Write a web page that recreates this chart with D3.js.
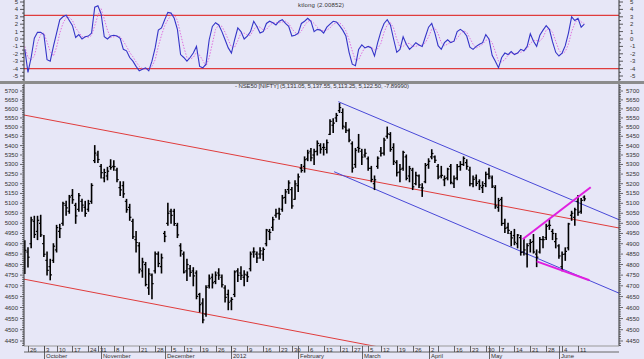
<!DOCTYPE html>
<html><head><meta charset="utf-8">
<script src="https://cdn.jsdelivr.net/npm/d3@7"></script>
<style>body{margin:0;background:#E7E7F7}svg{display:block}text{font-family:"Liberation Sans",Arial,sans-serif;fill:#333}</style>
</head><body>
<svg id="c" width="644" height="359"></svg>
<script>
// ---- categories (trading days) ----
const startDate = "2011-09-23", endDate = "2012-06-13";
const holidays = ["2011-10-06","2011-10-26","2011-10-27","2011-11-07","2011-11-10","2011-12-06","2012-01-26","2012-02-20","2012-03-08","2012-04-05","2012-04-06","2012-05-01"];
// ---- price series (NSE50) ----
const open = [4830,4860,4900,5010,4960,5000,4900,4820,4790,4820,4870,4960,5000,5090,5060,5140,5090,5070,5110,5080,5070,5110,5320,5350,5290,5230,5240,5290,5290,5270,5180,5190,5110,5080,5010,4920,4890,4770,4800,4690,4750,4770,4850,4790,4950,5000,5060,5060,4990,4890,4850,4770,4780,4770,4760,4660,4620,4570,4700,4740,4720,4760,4740,4690,4660,4630,4660,4770,4760,4740,4750,4780,4860,4850,4850,4850,4900,4960,4980,5040,5050,5070,5130,5170,5170,5120,5190,5280,5290,5330,5370,5350,5370,5400,5390,5380,5460,5510,5550,5590,5580,5500,5480,5410,5300,5390,5370,5350,5330,5280,5200,5290,5370,5360,5450,5460,5390,5310,5260,5280,5340,5240,5270,5200,5240,5180,5210,5300,5340,5340,5290,5240,5220,5230,5290,5200,5230,5290,5300,5310,5270,5200,5230,5210,5180,5200,5250,5230,5180,5080,5120,5000,4980,4950,4940,4900,4930,4860,4850,4900,4910,4850,4860,4920,4930,4990,4960,4910,4890,4790,4850,4880,5040,5030,5110,5060,5131.05];
const high = [4915,4880,5030,5035,5035,5040,4940,4860,4825,4900,4990,4995,5105,5110,5140,5170,5100,5150,5120,5110,5115,5200,5400,5370,5300,5275,5285,5325,5320,5280,5210,5210,5120,5095,5020,4960,4905,4830,4810,4780,4755,4860,4860,4850,4960,5100,5070,5070,5000,4900,4860,4825,4795,4785,4770,4665,4640,4700,4750,4755,4765,4780,4750,4700,4680,4645,4770,4780,4790,4770,4765,4860,4880,4860,4880,4880,4970,4970,5030,5070,5075,5140,5170,5215,5180,5215,5250,5300,5340,5375,5385,5380,5425,5410,5410,5430,5540,5545,5575,5630,5600,5525,5490,5420,5385,5460,5380,5380,5340,5290,5240,5340,5390,5440,5500,5470,5410,5320,5300,5370,5350,5290,5280,5260,5245,5200,5305,5330,5378,5345,5300,5290,5240,5280,5300,5240,5300,5315,5340,5325,5285,5240,5245,5220,5210,5260,5280,5240,5190,5125,5130,5020,5000,4960,4970,4945,4940,4925,4900,4920,4945,4870,4930,4935,4995,5020,4970,4950,4895,4860,4880,5000,5060,5075,5140,5125,5137.55];
const low = [4758,4788,4880,4930,4920,4935,4838,4750,4728,4810,4860,4930,4990,5040,5050,5100,5000,5060,5060,5035,5060,5100,5310,5310,5230,5210,5220,5275,5270,5210,5140,5130,5055,5015,4925,4860,4760,4740,4700,4660,4640,4760,4790,4760,4910,4990,5000,4990,4930,4840,4760,4725,4745,4700,4640,4580,4531,4560,4690,4690,4710,4730,4695,4625,4590,4590,4650,4720,4730,4700,4720,4770,4835,4810,4830,4820,4890,4920,4965,5030,5020,5060,5100,5150,5075,5120,5160,5260,5260,5320,5320,5300,5350,5360,5350,5360,5460,5470,5530,5580,5490,5470,5420,5260,5285,5365,5300,5340,5270,5210,5170,5280,5345,5350,5440,5370,5300,5240,5210,5270,5220,5210,5170,5195,5180,5135,5205,5280,5330,5310,5225,5230,5190,5220,5200,5180,5220,5270,5295,5275,5190,5185,5190,5170,5155,5185,5225,5180,5075,5060,4990,4955,4950,4890,4895,4880,4845,4845,4788,4860,4855,4790,4855,4880,4920,4970,4920,4880,4830,4770,4820,4870,5015,4990,5040,5050,5113.25];
const close = [4868,4835,5017,4945,5015,4943,4849,4772,4751,4888,4979,4974,5099,5077,5132,5118,5037,5139,5091,5049,5098,5191,5360,5326,5257,5258,5265,5284,5289,5221,5168,5148,5068,5030,4934,4906,4778,4812,4706,4756,4710,4851,4805,4832,4936,5050,5039,4999,4943,4866,4764,4800,4763,4746,4651,4613,4544,4693,4733,4714,4750,4750,4705,4646,4624,4637,4765,4749,4749,4754,4742,4850,4861,4831,4866,4873,4967,4955,5018,5048,5046,5127,5158,5204,5087,5199,5235,5269,5325,5361,5335,5368,5412,5381,5390,5416,5531,5521,5564,5607,5505,5483,5429,5281,5375,5385,5339,5359,5280,5222,5220,5333,5359,5429,5463,5380,5317,5257,5274,5364,5228,5278,5184,5243,5194,5178,5295,5317,5358,5322,5234,5243,5226,5276,5207,5226,5289,5300,5332,5290,5200,5222,5202,5189,5190,5248,5239,5188,5087,5114,4999,4975,4965,4928,4907,4942,4858,4870,4891,4906,4860,4835,4921,4920,4985,4990,4950,4924,4841,4848,4863,4997,5050,5068,5054,5115,5122.5];
// ---- oscillator ktlong ----
const ktlong = [-1.4,-4.5,-2.5,0.1,0.9,0.9,0.6,-2.8,-3.0,-1.0,0.8,2.6,3.0,3.2,2.5,1.8,0.2,0.6,0.0,0.3,0.4,0.8,4.3,4.5,3.4,0.3,0.0,0.4,0.5,0.4,0.1,-1.4,-1.6,-2.5,-3.0,-3.7,-4.3,-4.1,-3.9,-4.3,-3.0,-1.2,1.2,1.5,2.6,3.6,3.5,2.8,1.3,-2.1,-2.5,-3.0,-2.5,-1.9,-1.0,-3.7,-3.9,-3.4,-0.1,1.7,2.2,1.9,1.0,-0.1,-1.2,-1.9,-0.1,1.5,1.0,0.0,0.4,1.0,2.4,1.7,0.8,1.0,2.1,2.4,2.2,1.9,2.4,2.6,2.1,1.7,0.4,0.5,0.8,2.1,2.4,2.8,2.4,1.0,1.3,1.2,0.8,1.6,2.0,2.4,2.3,1.8,1.2,0.4,-1.8,-3.4,-3.6,-1.4,-0.8,-1.2,-1.0,-1.2,-2.3,-0.5,1.0,2.1,2.6,1.9,0.0,-1.8,-1.4,0.3,-0.7,-1.4,-1.0,-0.5,-0.8,-1.0,0.3,1.6,2.1,0.8,-0.9,-1.4,-0.5,-0.1,-0.5,-0.3,1.0,1.3,1.0,0.4,-1.1,-1.4,-1.0,-0.7,-0.5,0.6,0.0,-2.2,-3.0,-3.9,-2.5,-1.9,-2.1,-1.7,-2.1,-1.9,-1.4,-1.6,-1.0,0.7,-0.3,-1.0,0.5,1.2,1.8,1.3,-0.4,-1.8,-2.3,-1.9,-0.9,0.8,3.0,2.5,2.8,1.6,2.0];
const ktSignal = [-1.0,-2.5,-2.8,-2.3,-0.5,0.6,0.8,-0.4,-1.7,-2.3,-1.1,0.8,2.1,2.9,2.9,2.5,1.5,0.9,0.3,0.3,0.2,0.5,1.8,3.2,4.1,2.7,1.2,0.2,0.3,0.4,0.3,-0.3,-1.0,-1.8,-2.4,-3.1,-3.7,-4.0,-4.1,-4.1,-3.7,-2.8,-1.0,0.5,1.8,2.6,3.2,3.3,2.5,0.7,-1.1,-2.5,-2.7,-2.5,-1.8,-2.2,-2.9,-3.7,-2.5,-0.6,1.3,1.9,1.7,0.9,-0.1,-1.1,-1.1,-0.2,0.8,0.8,0.5,0.5,1.3,1.7,1.6,1.2,1.3,1.8,2.2,2.2,2.2,2.3,2.4,2.1,1.4,0.9,0.6,1.1,1.8,2.4,2.5,2.1,1.6,1.2,1.1,1.2,1.5,2.0,2.2,2.2,1.8,1.1,-0.1,-1.6,-2.9,-2.8,-1.9,-1.1,-1.0,-1.1,-1.5,-1.3,-0.6,0.9,1.9,2.2,1.5,0.0,-1.1,-1.0,-0.6,-0.6,-1.0,-1.0,-0.8,-0.8,-0.5,0.3,1.3,1.5,0.7,-0.5,-0.9,-0.7,-0.4,-0.3,0.1,0.7,1.1,0.9,0.1,-0.7,-1.2,-1.0,-0.7,-0.2,0.0,-0.5,-1.7,-3.0,-3.1,-2.8,-2.2,-1.9,-2.0,-1.9,-1.8,-1.6,-1.3,-0.6,-0.2,-0.2,-0.3,0.2,1.2,1.4,0.9,-0.3,-1.5,-2.0,-1.7,-0.7,1.0,2.1,2.8,2.3,2.1];
const oscLevels = [3.2, -4.0];
// ---- trend lines (index, price) ----
const redLines = [[[-0.25,5566],[186.9,4977]], [[-0.25,4731],[186.9,4227]]];
const blueLines = [[[98.6,5640],[186.9,5018]], [[97.3,5262],[186.9,4666]]];
const magentaLines = [[[156.6,4922],[178.0,5182]], [[161.0,4815],[177.6,4726]]];
// ---- axis labels ----
const priceTicks = d3.range(4450, 5701, 50);
const oscTicks = d3.range(-5, 6, 1);
const weekTickDates = ["2011-09-26","2011-10-03","2011-10-10","2011-10-17","2011-10-24","2011-10-31","2011-11-08","2011-11-14","2011-11-21","2011-11-28","2011-12-05","2011-12-12","2011-12-19","2011-12-26","2012-01-02","2012-01-09","2012-01-16","2012-01-23","2012-01-30","2012-02-06","2012-02-13","2012-02-21","2012-02-27","2012-03-05","2012-03-12","2012-03-19","2012-03-26","2012-04-02","2012-04-09","2012-04-16","2012-04-23","2012-04-30","2012-05-07","2012-05-14","2012-05-21","2012-05-28","2012-06-04","2012-06-11"];
const weekTickLabels = ["26","3","10","17","24","31","8","","21","28","5","12","19","26","2","9","16","23","30","6","13","21","27","5","12","19","26","2","","16","23","30","7","14","21","28","4","11"];
const monthTickDates = ["2011-10-03","2011-11-01","2011-12-01","2012-01-02","2012-02-01","2012-03-01","2012-04-02","2012-05-02","2012-06-01"];
const monthLabels = ["October","November","December","2012","February","March","April","May","June"];
const titleOsc = "ktlong (2.00852)";
const titleMain = "- NSE50 [NIFTY] (5,131.05, 5,137.55, 5,113.25, 5,122.50, -7.89990)";

// build trading day list
const dates = [];
{
  const hol = new Set(holidays);
  let d = new Date(startDate + "T00:00:00Z");
  const e = new Date(endDate + "T00:00:00Z");
  while (d <= e) {
    const k = d.toISOString().slice(0,10);
    const w = d.getUTCDay();
    if (w !== 0 && w !== 6 && !hol.has(k)) dates.push(k);
    d = new Date(d.getTime() + 86400000);
  }
}
const idx = s => dates.indexOf(s);

const svg = d3.select("#c");
const L = 24, R = 619;
const x = d3.scaleLinear().domain([-0.25, 186.9]).range([L, R]);
const yP = d3.scaleLog().domain([5700, 4450]).range([91, 341]);
const yO = d3.scaleLinear().domain([5, -5]).range([2, 76]);

const defs = svg.append("defs");
defs.append("clipPath").attr("id","cm").append("rect").attr("x",L).attr("y",85).attr("width",R-L).attr("height",261);
defs.append("clipPath").attr("id","co").append("rect").attr("x",L).attr("y",0).attr("width",R-L).attr("height",81);

// separator
svg.append("rect").attr("x",0).attr("y",81).attr("width",644).attr("height",3).attr("fill","#8c8c8c");

// ---- oscillator panel ----
const go = svg.append("g").attr("clip-path","url(#co)");
oscLevels.forEach(v => go.append("line").attr("x1",L).attr("x2",R).attr("y1",yO(v)).attr("y2",yO(v)).attr("stroke","#E03C3C").attr("stroke-width",1.2));
const lineO = d3.line().x((d,i)=>x(i)).y(d=>yO(d));
go.append("path").attr("d",lineO(ktSignal)).attr("fill","none").attr("stroke","#E070E0").attr("stroke-width",1).attr("stroke-dasharray","1.5,1.5");
go.append("path").attr("d",lineO(ktlong)).attr("fill","none").attr("stroke","#3535C8").attr("stroke-width",1.1);

// osc axes
[L, R].forEach((ax, s) => {
  svg.append("line").attr("x1",ax).attr("x2",ax).attr("y1",0).attr("y2",81).attr("stroke","#333");
  d3.range(-5.5, 5.6, 0.5).forEach(v => {
    const major = Math.abs(v % 1) < 1e-9;
    const len = major ? 4 : 2;
    svg.append("line").attr("x1", s ? ax : ax - len).attr("x2", s ? ax + len : ax)
      .attr("y1", yO(v)).attr("y2", yO(v)).attr("stroke","#333").attr("stroke-width",0.8);
  });
  oscTicks.forEach(v => {
    svg.append("text").attr("x", s ? ax + 11 : ax - 6).attr("y", yO(v) + 2)
      .attr("text-anchor", s ? "start" : "end").attr("font-size", 6).text(v);
  });
});
svg.append("text").attr("x", 321).attr("y", 7).attr("text-anchor","middle").attr("font-size",6).attr("textLength",46).text(titleOsc);

// ---- price panel ----
svg.append("text").attr("x", 322).attr("y", 88).attr("text-anchor","middle").attr("font-size",6).attr("textLength",174).text(titleMain);
const gm = svg.append("g").attr("clip-path","url(#cm)");
const seg = (g, arr, col, w) => arr.forEach(l => g.append("line")
  .attr("x1", x(l[0][0])).attr("y1", yP(l[0][1])).attr("x2", x(l[1][0])).attr("y2", yP(l[1][1]))
  .attr("stroke", col).attr("stroke-width", w));
seg(gm, redLines, "#E03C3C", 1);
seg(gm, blueLines, "#4848D8", 1);
// OHLC bars
const gb = gm.append("g").attr("stroke","#000");
close.forEach((c, i) => {
  const xx = x(i);
  gb.append("line").attr("x1", xx).attr("x2", xx).attr("y1", yP(high[i]) - 0.5).attr("y2", yP(low[i]) + 0.5).attr("stroke-width",1.6);
  gb.append("line").attr("x1", xx - 1.7).attr("x2", xx).attr("y1", yP(open[i])).attr("y2", yP(open[i])).attr("stroke-width",1.2);
  gb.append("line").attr("x1", xx).attr("x2", xx + 1.7).attr("y1", yP(c)).attr("y2", yP(c)).attr("stroke-width",1.2);
});
seg(gm, magentaLines, "#E020E0", 2);

// price axes
[L, R].forEach((ax, s) => {
  svg.append("line").attr("x1",ax).attr("x2",ax).attr("y1",84).attr("y2",346).attr("stroke","#333");
  d3.range(4430, 5731, 10).forEach(v => {
    const major = v % 50 === 0;
    const len = major ? 4 : 2;
    const yy = yP(v);
    if (yy < 85 || yy > 346) return;
    svg.append("line").attr("x1", s ? ax : ax - len).attr("x2", s ? ax + len : ax)
      .attr("y1", yy).attr("y2", yy).attr("stroke","#333").attr("stroke-width",0.7);
  });
  priceTicks.forEach(v => {
    svg.append("text").attr("x", s ? ax + 7 : ax - 6).attr("y", yP(v) + 2)
      .attr("text-anchor", s ? "start" : "end").attr("font-size", 6).text(v);
  });
});

// ---- date axis ----
svg.append("line").attr("x1",L).attr("x2",R).attr("y1",346).attr("y2",346).attr("stroke","#999");
svg.append("line").attr("x1",L).attr("x2",R).attr("y1",352).attr("y2",352).attr("stroke","#666");
weekTickDates.forEach((d, k) => {
  const xx = Math.round(x(idx(d))) + 0.5;
  svg.append("line").attr("x1",xx).attr("x2",xx).attr("y1",346).attr("y2",352).attr("stroke","#444").attr("stroke-width",0.8);
  svg.append("text").attr("x", xx + 1.5).attr("y", 351.5).attr("font-size",6).text(weekTickLabels[k]);
});
monthTickDates.forEach((d, k) => {
  const xx = Math.round(x(idx(d))) + 0.5;
  svg.append("line").attr("x1",xx).attr("x2",xx).attr("y1",346).attr("y2",359).attr("stroke","#444").attr("stroke-width",0.8);
  svg.append("text").attr("x", xx + 1.5).attr("y", 358).attr("font-size",6).text(monthLabels[k]);
});
</script>
</body></html>
